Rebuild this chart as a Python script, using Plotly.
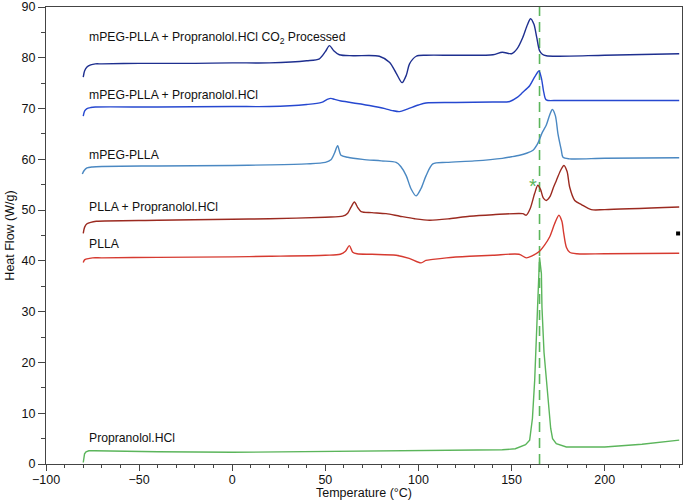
import plotly.graph_objects as go

# ---------------- data ----------------
co2_x = [-80, -79.3, -78, -76, -73.5, -70, -50, -20, 0, 20, 40, 46.8, 50, 52.2, 54.5, 57.5, 65, 79, 84.4, 88, 91.2, 93.5, 95.2, 98.8, 104, 120, 140, 145, 150, 153, 156, 158.5, 160.2, 162, 163.5, 165, 166.5, 168.6, 175, 200, 240]
co2_y = [76.2, 77.4, 78.2, 78.6, 78.8, 78.8, 78.9, 78.9, 79.0, 79.0, 79.4, 79.8, 81.2, 82.4, 81.4, 80.6, 80.4, 80.3, 79.1, 77.0, 75.1, 76.6, 78.8, 80.3, 80.5, 80.5, 80.6, 81.1, 80.8, 81.8, 84.0, 86.5, 87.7, 86.6, 84.0, 81.4, 80.7, 80.4, 80.3, 80.5, 80.8]

blue_x = [-80, -79.3, -78, -76, -73.5, -40, 0, 20, 40, 48, 51, 53, 55, 58.4, 62, 73.7, 82, 86, 89.8, 94, 100, 104, 120, 140, 149, 153, 156, 159.7, 162.5, 164.7, 166, 167.3, 168.6, 175, 200, 240]
blue_y = [68.5, 69.5, 70.0, 70.2, 70.3, 70.3, 70.4, 70.4, 70.8, 71.2, 71.8, 72.0, 71.8, 71.5, 71.3, 70.6, 70.0, 69.6, 69.4, 69.9, 70.7, 71.1, 71.2, 71.3, 71.4, 72.2, 73.2, 74.5, 76.3, 77.4, 76.0, 73.2, 71.7, 71.6, 71.6, 71.6]

mpeg_x = [-80.5, -79.5, -78, -75, -70, -40, 0, 20, 40, 50, 53, 55, 56.6, 58.4, 62, 70, 80, 88, 90.5, 93.4, 96, 98.7, 101.3, 104.1, 107.7, 115, 130, 145, 150, 154.3, 158, 161.5, 164, 166.5, 168.6, 170.5, 171.9, 173.5, 174.9, 176.7, 177.6, 181, 200, 240]
mpeg_y = [57.1, 57.8, 58.3, 58.5, 58.6, 58.7, 58.8, 58.9, 59.1, 59.4, 59.9, 61.3, 62.7, 60.8, 60.4, 60.0, 59.7, 59.4, 58.6, 56.8, 54.2, 52.8, 54.2, 56.8, 59.1, 59.4, 59.7, 60.2, 60.5, 60.8, 61.2, 61.8, 63.1, 65.3, 66.7, 68.8, 69.8, 68.6, 65.0, 61.8, 60.4, 60.1, 60.2, 60.3]

pllap_x = [-80, -79.3, -78, -76, -73, -40, 0, 20, 50, 59.3, 62, 63.8, 65.6, 67.4, 69.2, 75, 82.6, 90, 98, 105.9, 116.7, 127.4, 140, 156, 157.9, 160, 162.4, 164.1, 165.6, 167, 168.6, 170.5, 172.5, 174, 176.3, 178.1, 179.8, 181.2, 183.9, 187.5, 192.8, 200, 240]
pllap_y = [45.4, 46.6, 47.3, 47.6, 47.8, 48.0, 48.2, 48.3, 48.6, 48.8, 49.4, 50.6, 51.6, 50.5, 49.7, 49.5, 49.3, 48.8, 48.3, 48.0, 48.3, 48.8, 49.1, 49.3, 49.0, 50.3, 53.3, 54.9, 54.0, 52.4, 51.9, 52.6, 54.5, 55.8, 57.8, 58.8, 57.6, 54.5, 51.9, 51.1, 50.1, 50.1, 50.6]

plla_x = [-80, -79.3, -78, -75, -70, -40, 0, 20, 50, 58, 60.8, 62.9, 64.7, 67, 75, 88, 95, 101.4, 104, 107.7, 115, 127.4, 140, 154, 157.9, 161, 165, 167.5, 170.4, 173.1, 175.4, 177, 178, 179.4, 181.2, 185, 200, 240]
plla_y = [39.7, 40.2, 40.4, 40.6, 40.6, 40.7, 40.8, 40.9, 41.1, 41.3, 41.9, 43.0, 41.7, 41.4, 41.3, 41.1, 40.5, 39.6, 40.1, 40.3, 40.6, 40.9, 41.1, 41.3, 40.6, 41.0, 41.9, 43.0, 44.7, 47.3, 49.0, 47.8, 45.4, 42.7, 41.7, 41.4, 41.4, 41.5]

prop_x = [-80, -79.7, -79.3, -78.5, -77, -74, -60, -40, 0, 40, 80, 120, 145, 152, 156, 157.5, 159.7, 161.2, 162.4, 163.8, 164.4, 165.0, 166.0, 166.3, 167.4, 168.6, 170.0, 171.0, 172.0, 174.0, 179.4, 190, 200, 220, 240]
prop_y = [0.3, 1.4, 2.0, 2.4, 2.6, 2.6, 2.5, 2.4, 2.3, 2.4, 2.5, 2.6, 2.8, 3.0, 3.5, 3.8, 4.7, 9.0, 16.5, 30.9, 37.5, 40.7, 37.5, 30.9, 22.0, 16.5, 10.0, 7.0, 5.0, 4.0, 3.35, 3.3, 3.35, 3.9, 4.7]

labels = ["mPEG-PLLA + Propranolol.HCl CO<sub>2</sub> Processed",
          "mPEG-PLLA + Propranolol.HCl",
          "mPEG-PLLA",
          "PLLA + Propranolol.HCl",
          "PLLA",
          "Propranolol.HCl"]
label_y = [83.9, 72.6, 60.8, 50.6, 43.4, 5.1]
label_x = -77.8

melt_line_x = 165
star_x, star_y = 161.3, 55.6
dot_x, dot_y = 239.4, 45.4

x_ticks = [-100, -50, 0, 50, 100, 150, 200]
x_ticktext = ["\u2212100", "\u221250", "0", "50", "100", "150", "200"]
y_ticks = [0, 10, 20, 30, 40, 50, 60, 70, 80, 90]

FONT = "Liberation Sans, Arial, Helvetica, sans-serif"

# ---------------- figure ----------------
fig = go.Figure()

series = [
    (co2_x, co2_y, "#1e2f8f", "spline"),
    (blue_x, blue_y, "#2648d0", "spline"),
    (mpeg_x, mpeg_y, "#4a88c2", "spline"),
    (pllap_x, pllap_y, "#9b2a20", "spline"),
    (plla_x, plla_y, "#d63a30", "spline"),
    (prop_x, prop_y, "#5bb55b", "linear"),
]

# dashed melting line
fig.add_trace(go.Scatter(x=[melt_line_x, melt_line_x], y=[0, 90], mode="lines",
                         line=dict(color="#5bb55b", width=1.6, dash="10px,6px"),
                         showlegend=False, hoverinfo="skip"))

for xs, ys, c, shp in series:
    ln = dict(color=c, width=1.4, shape=shp)
    if shp == "spline":
        ln["smoothing"] = 0.8
    fig.add_trace(go.Scatter(x=xs, y=ys, mode="lines", line=ln, showlegend=False))

fig.add_trace(go.Scatter(x=[dot_x], y=[dot_y], mode="markers",
                         marker=dict(symbol="square", size=4, color="black"),
                         showlegend=False))

for t, yy in zip(labels, label_y):
    fig.add_annotation(x=label_x, y=yy, text=t, showarrow=False, xanchor="left", yanchor="middle",
                       font=dict(family=FONT, size=12.2, color="#111"))

fig.add_annotation(x=star_x, y=star_y, text="*", showarrow=False, xanchor="center", yanchor="middle",
                   yshift=-4, font=dict(family=FONT, size=20, color="#5bb55b"))

axis_common = dict(showgrid=False, zeroline=False, showline=True, linecolor="#444", linewidth=1,
                   mirror=True, ticks="outside", tickcolor="#444", automargin=False,
                   tickfont=dict(family=FONT, size=12.5, color="#111"))

fig.update_xaxes(range=[-100, 241.5], tickvals=x_ticks, ticktext=x_ticktext, ticklen=6,
                 ticklabelstandoff=-2,
                 minor=dict(dtick=10, ticks="outside", ticklen=3, tickcolor="#444"),
                 title=dict(text="Temperature (\u00b0C)", standoff=4,
                            font=dict(family=FONT, size=12.5, color="#111")),
                 **axis_common)
fig.update_yaxes(range=[0, 90], tickvals=y_ticks, ticklen=7,
                 minor=dict(dtick=5, ticks="outside", ticklen=4, tickcolor="#444"),
                 title=dict(text="Heat Flow (W/g)", standoff=4,
                            font=dict(family=FONT, size=12.5, color="#111")),
                 **axis_common)

fig.update_layout(width=685, height=500, margin=dict(l=46, r=3, t=7, b=36),
                  plot_bgcolor="white", paper_bgcolor="white")

fig.write_html("out.html", config={"displayModeBar": False},
               post_script="document.body.style.margin='0';document.body.style.overflow='hidden';")
